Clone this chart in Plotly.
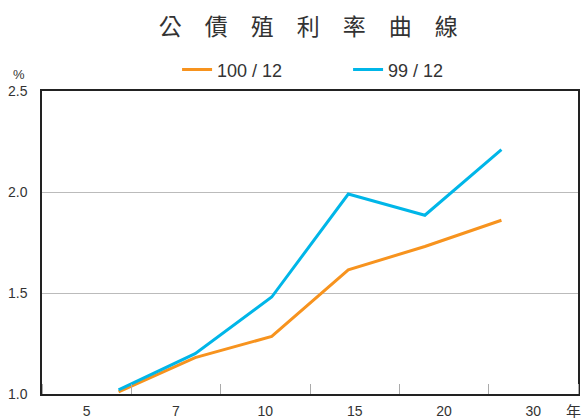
import plotly.graph_objects as go

tenor_labels = ["5", "7", "10", "15", "20", "30"]
series_names = ["100 / 12", "99 / 12"]
yield_100_12 = [1.01, 1.18, 1.285, 1.615, 1.73, 1.86]
yield_99_12 = [1.02, 1.20, 1.48, 1.99, 1.885, 2.21]
point_pos = [1, 2, 3, 4, 5, 6]
y_ticks = [1.0, 1.5, 2.0, 2.5]

colors = ["#F7931E", "#00B6E8"]
FONT = "Liberation Sans, Arial, sans-serif"

fig = go.Figure()
# anchor trace so the labelled category axis is drawn
fig.add_trace(go.Scatter(x=[None], y=[None], showlegend=False, hoverinfo="skip"))
for name, vals, c in zip(series_names, [yield_100_12, yield_99_12], colors):
    fig.add_trace(go.Scatter(x=point_pos, y=vals, name=name, mode="lines",
                             line=dict(color=c, width=3), xaxis="x2"))

n = len(tenor_labels)
fig.update_layout(
    width=587, height=418,
    margin=dict(l=42, r=9, t=91, b=24, autoexpand=False),
    paper_bgcolor="white", plot_bgcolor="white",
    font=dict(family=FONT, size=14, color="#333"),
    title=dict(text="公　債　殖　利　率　曲　線", x=0.525, xanchor="center", y=0.935, yanchor="middle",
               font=dict(family="Noto Sans CJK TC", size=23, color="#333")),
    showlegend=True,
    legend=dict(orientation="h", x=0.252, xanchor="left", y=1.07, yanchor="middle",
                font=dict(size=18, color="#333"), itemwidth=30, entrywidth=126),
    xaxis=dict(range=[0, n], tickvals=[i + 0.5 for i in range(n)], ticktext=tenor_labels,
               showgrid=False, zeroline=False, showline=True, linecolor="#222", linewidth=1.5,
               mirror=True, ticks="", ticklabelstandoff=3, automargin=False,
               minor=dict(ticks="inside", tick0=0, dtick=1, ticklen=10, tickcolor="#aaa", tickwidth=1, showgrid=False)),
    xaxis2=dict(range=[0, 7], overlaying="x", visible=False),
    yaxis=dict(range=[1.0, 2.5], tickvals=y_ticks, tickformat=".1f", showgrid=True,
               gridcolor="#bbb", gridwidth=1, zeroline=False, showline=True, automargin=False,
               linecolor="#222", linewidth=1.5, mirror=True, ticks="", ticklabelstandoff=10),
    annotations=[
        dict(text="%", x=-0.043, y=1.056, xref="paper", yref="paper", showarrow=False,
             xanchor="center", yanchor="middle", font=dict(size=13, color="#333")),
        dict(text="年", x=0.992, y=-0.056, xref="paper", yref="paper", showarrow=False,
             xanchor="center", yanchor="middle",
             font=dict(family="Noto Sans CJK TC", size=15, color="#333")),
    ],
)
fig.write_html("out.html", post_script="document.body.style.margin='0px';",
               config={"displayModeBar": False})
